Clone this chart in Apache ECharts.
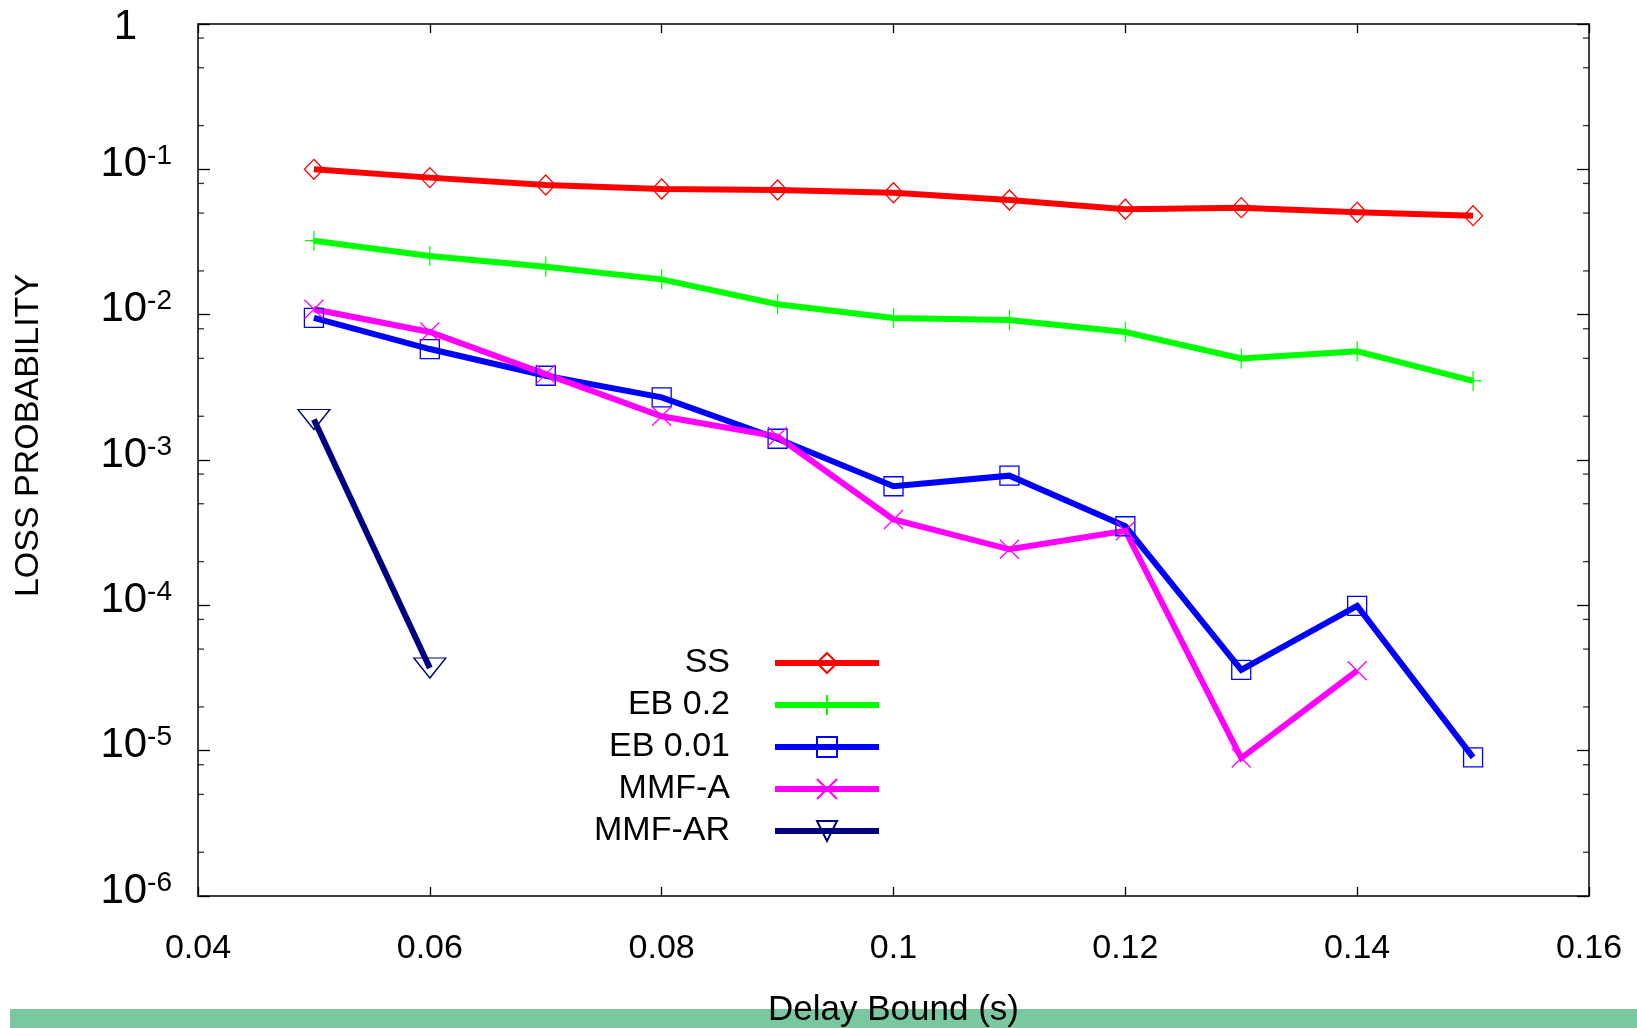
<!DOCTYPE html>
<html>
<head>
<meta charset="utf-8">
<title>Loss probability vs delay bound</title>
<script src="https://cdn.jsdelivr.net/npm/echarts@6/dist/echarts.min.js"></script>
<style>
  html, body { margin: 0; padding: 0; background: #ffffff; }
  #chart { width: 1637px; height: 1028px; }
</style>
</head>
<body>
<div id="chart"></div>
<script>
// Delay bound (s)
const delayBounds = [0.05, 0.06, 0.07, 0.08, 0.09, 0.10, 0.11, 0.12, 0.13, 0.14, 0.15];

// Loss probability for each scheme
const ssLoss    = [0.100, 0.0877, 0.078, 0.0733, 0.0721, 0.069, 0.0615, 0.0531, 0.0545, 0.0506, 0.048];
const eb02Loss  = [0.0323, 0.0253, 0.0214, 0.0175, 0.0118, 0.0095, 0.0092, 0.0076, 0.0050, 0.0056, 0.0035];
const eb001Loss = [0.0095, 0.0058, 0.0038, 0.0027, 0.0014, 0.00066, 0.00078, 0.00035, 3.6e-5, 9.9e-5, 9.0e-6];
const mmfaLoss  = [0.0109, 0.0076, 0.0039, 0.0020, 0.00145, 0.00039, 0.000243, 0.000326, 8.9e-6, 3.55e-5];
const mmfarLoss = [0.0019, 3.7e-5];

const seriesNames = ['SS', 'EB 0.2', 'EB 0.01', 'MMF-A', 'MMF-AR'];

// Axis ranges
const xMin = 0.04, xMax = 0.16, xStep = 0.02;
const yMin = 1e-6, yMax = 1;

// Minor ticks on the log axis (2, 5, 8 in every decade)
const minorTickValues = [
  0.8, 0.5, 0.2,
  0.08, 0.05, 0.02,
  0.008, 0.005, 0.002,
  0.0008, 0.0005, 0.0002,
  8e-5, 5e-5, 2e-5,
  8e-6, 5e-6, 2e-6
];

const FONT = '"Liberation Sans", Arial, Helvetica, sans-serif';
const LINE_WIDTH = 6;

function pairs(xs, ys) {
  return ys.map((y, i) => [xs[i], y]);
}

const PLUS = 'path://M0,10L20,10M10,0L10,20';
const CROSS = 'path://M0,0L20,20M20,0L0,20';

function lineSeries(name, values, color, symbol, symbolSize, extra) {
  return Object.assign({
    name: name,
    type: 'line',
    xAxisIndex: 0,
    yAxisIndex: 0,
    data: pairs(delayBounds, values),
    symbol: symbol,
    symbolSize: symbolSize,
    showSymbol: true,
    showAllSymbol: true,
    clip: false,
    lineStyle: { color: color, width: LINE_WIDTH, join: 'miter' },
    itemStyle: { color: 'none', borderColor: color, borderWidth: 1.3 },
    emphasis: { disabled: true }
  }, extra || {});
}

function tickSeries(xPos, offset) {
  return {
    type: 'scatter',
    xAxisIndex: 0,
    yAxisIndex: 0,
    silent: true,
    clip: false,
    data: minorTickValues.map(v => [xPos, v]),
    symbol: 'rect',
    symbolSize: [6, 1.3],
    symbolOffset: [offset, 0],
    itemStyle: { color: '#000000' },
    emphasis: { disabled: true },
    z: 3
  };
}

function yLabel(v) {
  const e = Math.round(Math.log10(v));
  if (e === 0) return '{one|1}';
  return '{b|10}{s|' + e + '}';
}

const chart = echarts.init(document.getElementById('chart'), null, { renderer: 'canvas' });

const option = {
  animation: false,
  backgroundColor: '#ffffff',
  textStyle: { fontFamily: FONT, color: '#000000' },
  grid: { left: 198, right: 48, top: 24, bottom: 132, containLabel: false, outerBoundsMode: 'none' },
  xAxis: [
    {
      type: 'value',
      position: 'bottom',
      min: xMin, max: xMax, interval: xStep,
      name: 'Delay Bound (s)',
      nameLocation: 'middle',
      nameGap: 97,
      nameTextStyle: { fontFamily: FONT, fontSize: 35, color: '#000000' },
      axisLine: { show: true, onZero: false, lineStyle: { color: '#000000', width: 1.5 } },
      axisTick: { show: true, inside: true, length: 9, lineStyle: { color: '#000000', width: 1.3 } },
      axisLabel: { show: true, margin: 36, fontFamily: FONT, fontSize: 34, color: '#000000' },
      splitLine: { show: false }
    },
    {
      type: 'value',
      position: 'top',
      min: xMin, max: xMax, interval: xStep,
      axisLine: { show: true, onZero: false, lineStyle: { color: '#000000', width: 1.5 } },
      axisTick: { show: true, inside: true, length: 9, lineStyle: { color: '#000000', width: 1.3 } },
      axisLabel: { show: false },
      splitLine: { show: false }
    }
  ],
  yAxis: [
    {
      type: 'log',
      logBase: 10,
      position: 'left',
      min: yMin, max: yMax,
      name: 'LOSS PROBABILITY',
      nameLocation: 'middle',
      nameRotate: 90,
      nameGap: 152,
      nameTextStyle: { fontFamily: FONT, fontSize: 34, color: '#000000', padding: [0, 0, 0, 49] },
      axisLine: { show: true, onZero: false, lineStyle: { color: '#000000', width: 1.5 } },
      axisTick: { show: true, inside: true, length: 12, lineStyle: { color: '#000000', width: 1.3 } },
      axisLabel: {
        show: true,
        margin: 26,
        padding: [0, 0, 10, 0],
        formatter: yLabel,
        rich: {
          b: { fontFamily: FONT, fontSize: 42, lineHeight: 44, color: '#000000' },
          s: { fontFamily: FONT, fontSize: 28, lineHeight: 20, verticalAlign: 'top', color: '#000000' },
          one: { fontFamily: FONT, fontSize: 42, lineHeight: 44, color: '#000000', padding: [16, 35, 0, 0] }
        }
      },
      minorTick: { show: false },
      splitLine: { show: false }
    },
    {
      type: 'log',
      logBase: 10,
      position: 'right',
      min: yMin, max: yMax,
      axisLine: { show: true, onZero: false, lineStyle: { color: '#000000', width: 1.5 } },
      axisTick: { show: true, inside: true, length: 12, lineStyle: { color: '#000000', width: 1.3 } },
      axisLabel: { show: false },
      splitLine: { show: false }
    }
  ],
  legend: {
    data: seriesNames,
    orient: 'vertical',
    align: 'right',
    right: 755,
    top: 646,
    padding: 0,
    itemGap: 8,
    itemWidth: 104,
    itemHeight: 25,
    selectedMode: false,
    lineStyle: { width: LINE_WIDTH },
    textStyle: { fontFamily: FONT, fontSize: 34, lineHeight: 33, color: '#000000', padding: [0, 40, 0, 0] }
  },
  graphic: [
    {
      type: 'rect',
      z: -10,
      silent: true,
      shape: { x: 10, y: 1009, width: 1627, height: 19 },
      style: { fill: '#7ac8a0' }
    }
  ],
  series: [
    lineSeries('SS', ssLoss, '#ff0000', 'diamond', [19, 20]),
    lineSeries('EB 0.2', eb02Loss, '#00ff00', PLUS, [18, 20]),
    lineSeries('EB 0.01', eb001Loss, '#0000ff', 'rect', [19, 19]),
    lineSeries('MMF-A', mmfaLoss, '#ff00ff', CROSS, [19, 19]),
    lineSeries('MMF-AR', mmfarLoss, '#000080', 'triangle', [32, 20], { symbolRotate: 180 }),
    tickSeries(xMin, 3),
    tickSeries(xMax, -3)
  ]
};

chart.setOption(option);
</script>
</body>
</html>
